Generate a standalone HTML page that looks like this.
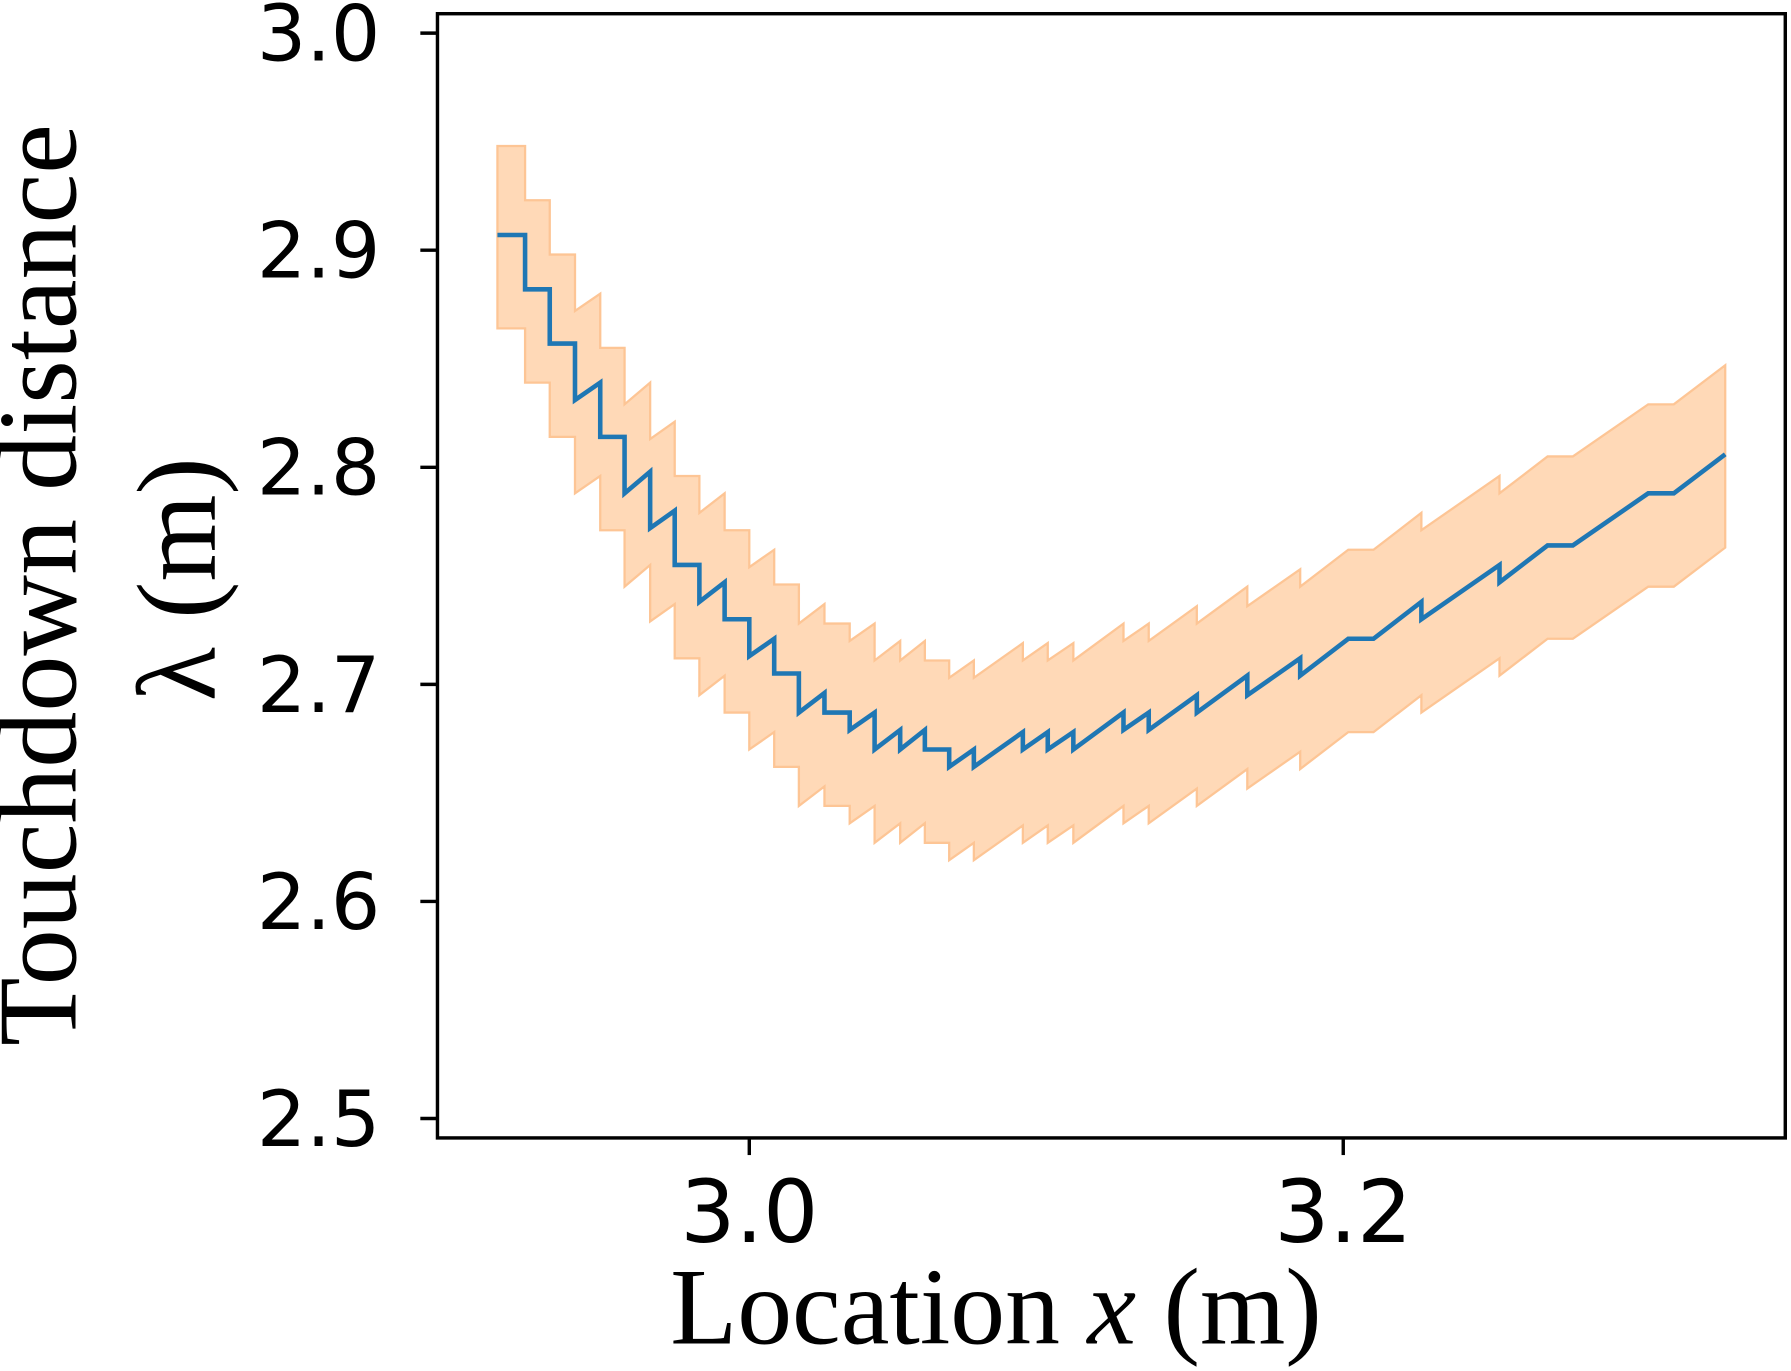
<!DOCTYPE html>
<html><head><meta charset="utf-8"><style>
html,body{margin:0;padding:0;background:#fff;}
svg{display:block;}
</style></head><body>
<svg id="chart" width="1791" height="1371" viewBox="0 0 1568 1200" preserveAspectRatio="none" xmlns="http://www.w3.org/2000/svg">
<rect x="0" y="0" width="1568" height="1200" fill="#fff"/>
<g id="band"></g>
<g id="line"></g>
<rect x="383" y="12" width="1180" height="984" fill="none" stroke="#000" stroke-width="3"/>
<g id="yticks"></g>
<g id="xticks"></g>
<text x="872" y="1176" text-anchor="middle" font-family="Liberation Serif, serif" font-size="96" fill="#000">Location <tspan font-style="italic">x</tspan> (m)</text>
<text transform="translate(66,512) rotate(-90)" text-anchor="middle" font-family="Liberation Serif, serif" font-size="98" fill="#000">Touchdown distance</text>
<text transform="translate(188,507) rotate(-90)" text-anchor="middle" font-family="Liberation Serif, DejaVu Serif, serif" font-size="98" fill="#000">λ (m)</text>
</svg>
<script>
const xTicks = [3.0, 3.2];
const xTickLabels = ["3.0", "3.2"];
const yTicks = [2.5, 2.6, 2.7, 2.8, 2.9, 3.0];
const yTickLabels = ["2.5", "2.6", "2.7", "2.8", "2.9", "3.0"];
const lineX = [2.9152,2.9245,2.9245,2.9328,2.9328,2.9413,2.9413,2.9498,2.9498,2.9580,2.9580,2.9666,2.9666,2.9749,2.9749,2.9832,2.9832,2.9917,2.9917,3.0000,3.0000,3.0084,3.0084,3.0167,3.0167,3.0253,3.0253,3.0338,3.0338,3.0422,3.0422,3.0508,3.0508,3.0591,3.0591,3.0673,3.0673,3.0756,3.0756,3.0921,3.0921,3.1005,3.1005,3.1091,3.1091,3.1260,3.1260,3.1345,3.1345,3.1507,3.1507,3.1677,3.1677,3.1855,3.1855,3.2017,3.2102,3.2263,3.2263,3.2526,3.2526,3.2688,3.2773,3.3027,3.3113,3.3286];
const meanY = [2.907,2.907,2.882,2.882,2.857,2.857,2.831,2.839,2.814,2.814,2.788,2.798,2.772,2.780,2.755,2.755,2.738,2.747,2.730,2.730,2.713,2.721,2.705,2.705,2.687,2.696,2.687,2.687,2.679,2.687,2.670,2.679,2.670,2.679,2.670,2.670,2.662,2.670,2.662,2.678,2.670,2.678,2.670,2.678,2.670,2.687,2.679,2.687,2.679,2.695,2.687,2.704,2.695,2.712,2.704,2.721,2.721,2.738,2.730,2.755,2.747,2.764,2.764,2.788,2.788,2.806];
const upperY = [2.948,2.948,2.923,2.923,2.898,2.898,2.872,2.880,2.855,2.855,2.829,2.839,2.813,2.821,2.796,2.796,2.779,2.788,2.771,2.771,2.754,2.762,2.746,2.746,2.728,2.737,2.728,2.728,2.720,2.728,2.711,2.720,2.711,2.720,2.711,2.711,2.703,2.711,2.703,2.719,2.711,2.719,2.711,2.719,2.711,2.728,2.720,2.728,2.720,2.736,2.728,2.745,2.736,2.753,2.745,2.762,2.762,2.779,2.771,2.796,2.788,2.805,2.805,2.829,2.829,2.847];
const lowerY = [2.864,2.864,2.839,2.839,2.814,2.814,2.788,2.796,2.771,2.771,2.745,2.755,2.729,2.737,2.712,2.712,2.695,2.704,2.687,2.687,2.670,2.678,2.662,2.662,2.644,2.653,2.644,2.644,2.636,2.644,2.627,2.636,2.627,2.636,2.627,2.627,2.619,2.627,2.619,2.635,2.627,2.635,2.627,2.635,2.627,2.644,2.636,2.644,2.636,2.652,2.644,2.661,2.652,2.669,2.661,2.678,2.678,2.695,2.687,2.712,2.704,2.721,2.721,2.745,2.745,2.763];

const NS = "http://www.w3.org/2000/svg";
function sx(v){ return 656 + (v - 3.0) * 2600; }
function sy(v){ return 29 + (3.0 - v) * 1900; }

const band = document.getElementById('band');
let d = lineX.map((x,i)=>(i?'L':'M')+sx(x).toFixed(1)+','+sy(upperY[i]).toFixed(1)).join(' ');
for (let i = lineX.length-1; i >= 0; i--) d += ' L'+sx(lineX[i]).toFixed(1)+','+sy(lowerY[i]).toFixed(1);
d += ' Z';
const bp = document.createElementNS(NS,'path');
bp.setAttribute('d', d);
bp.setAttribute('fill', '#ffd9b7');
bp.setAttribute('stroke', '#fdc595');
bp.setAttribute('stroke-width', '2');


band.appendChild(bp);

const line = document.getElementById('line');
const lp = document.createElementNS(NS,'path');
lp.setAttribute('d', lineX.map((x,i)=>(i?'L':'M')+sx(x).toFixed(1)+','+sy(meanY[i]).toFixed(1)).join(' '));
lp.setAttribute('fill', 'none');
lp.setAttribute('stroke', '#1f77b4');
lp.setAttribute('stroke-width', '4');


line.appendChild(lp);

const yg = document.getElementById('yticks');
yTicks.forEach((v,i)=>{
  const t = document.createElementNS(NS,'line');
  t.setAttribute('x1', 368); t.setAttribute('x2', 383);
  t.setAttribute('y1', sy(v)); t.setAttribute('y2', sy(v));
  t.setAttribute('stroke', '#000'); t.setAttribute('stroke-width', '3');
  
  
  yg.appendChild(t);
  const l = document.createElementNS(NS,'text');
  l.setAttribute('x', 333); l.setAttribute('y', sy(v) + 24);
  l.setAttribute('text-anchor', 'end');
  l.setAttribute('font-family', 'DejaVu Sans, sans-serif');
  l.setAttribute('font-size', '68');
  l.textContent = yTickLabels[i];
  
  
  yg.appendChild(l);
});
const xg = document.getElementById('xticks');
xTicks.forEach((v,i)=>{
  const t = document.createElementNS(NS,'line');
  t.setAttribute('x1', sx(v)); t.setAttribute('x2', sx(v));
  t.setAttribute('y1', 996); t.setAttribute('y2', 1011);
  t.setAttribute('stroke', '#000'); t.setAttribute('stroke-width', '3');
  
  
  xg.appendChild(t);
  const l = document.createElementNS(NS,'text');
  l.setAttribute('x', sx(v)); l.setAttribute('y', 1087);
  l.setAttribute('text-anchor', 'middle');
  l.setAttribute('font-family', 'DejaVu Sans, sans-serif');
  l.setAttribute('font-size', '76');
  l.textContent = xTickLabels[i];
  
  
  xg.appendChild(l);
});
</script>
</body></html>
